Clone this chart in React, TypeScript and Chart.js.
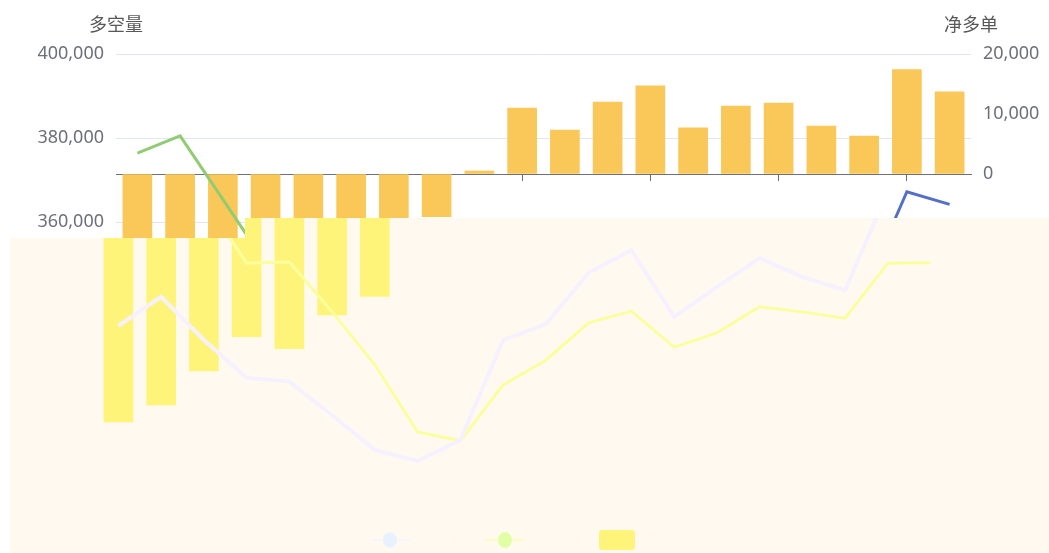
import React, { useEffect, useRef } from 'react';
import { Chart, registerables } from 'chart.js';

Chart.register(...registerables);

// ---------- data ----------
const categories = ['1', '2', '3', '4', '5', '6', '7', '8', '9', '10', '11', '12', '13', '14', '15', '16', '17', '18', '19', '20'];
const seriesNames = ['多单量', '空单量', '净多单'];
const longVolume = [335300, 342200, 331900, 322900, 322000, 314000, 305700, 303100, 308100, 331900, 335700, 347900, 353300, 337400, 344500, 351400, 346900, 343800, 367200, 364200];
const shortVolume = [376400, 380500, 365400, 350200, 350500, 338600, 326000, 310000, 307900, 321200, 327100, 336000, 338800, 330200, 333600, 339800, 338600, 337100, 350200, 350300];
const netLong = [-41300, -38500, -32800, -27100, -29100, -23500, -20400, -7100, 500, 11000, 7300, 12000, 14700, 7700, 11300, 11800, 8000, 6300, 17400, 13700];
const leftTicks = { min: 300000, max: 400000, step: 20000 };
const rightTicks = { min: -50000, max: 20000, step: 10000 };
const leftAxisName = '多空量';
const rightAxisName = '净多单';

const W = 1049;
const H = 553;
const GHOST_SHIFT = -19;
const FONT = "'Noto Sans', 'Noto Sans CJK SC', sans-serif";
const TICK_COLOR = '#6E7079';
const CREAM = '#FFF9F0';

const ghostLegend = {
  id: 'ghostLegend',
  afterDraw(chart: any) {
    const ctx = chart.ctx;
    const y = 540;
    const centers = [409, 524, 636];
    const iconColors = [
      { line: '#F8F5FF', dot: '#E8F2FF' },
      { line: '#FAFFC0', dot: '#E2FFA6' },
      { fill: '#FFF47A' },
    ];
    ctx.save();
    chart.data.datasets.forEach((ds: any, i: number) => {
      const cx = centers[i];
      const c: any = iconColors[i];
      if (ds.type === 'line') {
        ctx.strokeStyle = c.line;
        ctx.lineWidth = 2;
        ctx.beginPath();
        ctx.moveTo(cx - 20, y);
        ctx.lineTo(cx + 20, y);
        ctx.stroke();
        ctx.fillStyle = c.dot;
        ctx.beginPath();
        ctx.ellipse(cx, y, 7, 8, 0, 0, Math.PI * 2);
        ctx.fill();
      } else {
        ctx.fillStyle = c.fill;
        ctx.beginPath();
        ctx.roundRect(cx - 18, y - 10, 36, 20, 3);
        ctx.fill();
      }
      ctx.fillStyle = '#FFF8EF';
      ctx.font = `17px ${FONT}`;
      ctx.textBaseline = 'middle';
      ctx.fillText(ds.label, cx + 26, y);
    });
    ctx.restore();
  },
};

function makeConfig(ghost: boolean): any {
  const blue = ghost ? '#F5F1FF' : '#5470C6';
  const green = ghost ? '#F9FF9C' : '#91CC75';
  const bar = ghost ? '#FFF47A' : '#FAC858';
  return {
    type: 'bar',
    data: {
      labels: categories,
      datasets: [
        {
          type: 'line',
          label: seriesNames[0],
          data: longVolume,
          yAxisID: 'y',
          borderColor: blue,
          backgroundColor: blue,
          borderWidth: ghost ? 4 : 3,
          pointRadius: 0,
          tension: 0,
          order: 0,
        },
        {
          type: 'line',
          label: seriesNames[1],
          data: shortVolume,
          yAxisID: 'y',
          borderColor: green,
          backgroundColor: green,
          borderWidth: 3,
          pointRadius: 0,
          tension: 0,
          order: 0,
        },
        {
          type: 'bar',
          label: seriesNames[2],
          data: netLong,
          yAxisID: 'y1',
          backgroundColor: bar,
          barThickness: 29,
          order: 1,
        },
      ],
    },
    options: {
      animation: false,
      responsive: false,
      maintainAspectRatio: false,
      layout: { padding: { top: 54, bottom: 79, left: 0, right: 0 } },
      plugins: { legend: { display: false }, tooltip: { enabled: false } },
      scales: {
        x: {
          position: { y1: 0 },
          offset: true,
          ticks: { display: false },
          grid: {
            offset: false,
            drawOnChartArea: false,
            tickLength: 6,
            tickWidth: 1,
            color: (c: any) => (ghost ? 'rgba(0,0,0,0)' : c.index % 3 === 0 ? TICK_COLOR : 'rgba(0,0,0,0)'),
          },
          border: { display: !ghost, color: TICK_COLOR, width: 1 },
        },
        y: {
          position: 'left',
          min: leftTicks.min,
          max: leftTicks.max,
          ticks: {
            stepSize: leftTicks.step,
            padding: 12,
            color: ghost ? 'rgba(0,0,0,0)' : TICK_COLOR,
            font: { family: FONT, size: 18 },
            callback: (v: any) => Number(v).toLocaleString('en-US'),
          },
          grid: { color: ghost ? 'rgba(0,0,0,0)' : '#E0E6F1', drawTicks: false, lineWidth: 1 },
          border: { display: false },
          afterFit: (s: any) => {
            s.width = 116;
          },
        },
        y1: {
          position: 'right',
          min: rightTicks.min,
          max: rightTicks.max,
          ticks: {
            stepSize: rightTicks.step,
            padding: 12,
            color: ghost ? 'rgba(0,0,0,0)' : TICK_COLOR,
            font: { family: FONT, size: 18 },
            callback: (v: any) => Number(v).toLocaleString('en-US'),
          },
          grid: { drawOnChartArea: false, drawTicks: false },
          border: { display: false },
          afterFit: (s: any) => {
            s.width = 78;
          },
        },
      },
    },
    plugins: ghost ? [ghostLegend] : [],
  };
}

export default function App() {
  const mainRef = useRef<HTMLCanvasElement | null>(null);
  const ghostRef = useRef<HTMLCanvasElement | null>(null);

  useEffect(() => {
    const charts: Chart[] = [];
    if (mainRef.current) charts.push(new Chart(mainRef.current, makeConfig(false)));
    if (ghostRef.current) charts.push(new Chart(ghostRef.current, makeConfig(true)));
    return () => charts.forEach((c) => c.destroy());
  }, []);

  const titleStyle: React.CSSProperties = {
    position: 'absolute',
    top: 10,
    width: 80,
    textAlign: 'center',
    font: `18px 'Noto Sans CJK SC', sans-serif`,
    color: '#585858',
    lineHeight: '26px',
  };

  return (
    <div style={{ position: 'fixed', left: 0, top: 0, width: W, height: H, background: '#fff', overflow: 'hidden' }}>
      <canvas ref={mainRef} width={W} height={H} style={{ position: 'absolute', left: 0, top: 0, width: W, height: H }} />
      <div style={{ ...titleStyle, left: 116 - 40 }}>{leftAxisName}</div>
      <div style={{ ...titleStyle, left: 971 - 40 }}>{rightAxisName}</div>
      <div
        style={{
          position: 'absolute',
          left: 0,
          top: 0,
          width: W,
          height: H,
          background: CREAM,
          clipPath: 'polygon(10px 238px, 245px 238px, 245px 218px, 1049px 218px, 1049px 553px, 10px 553px)',
        }}
      >
        <canvas
          ref={ghostRef}
          width={W}
          height={H}
          style={{ position: 'absolute', left: GHOST_SHIFT, top: 0, width: W, height: H }}
        />
      </div>
    </div>
  );
}
